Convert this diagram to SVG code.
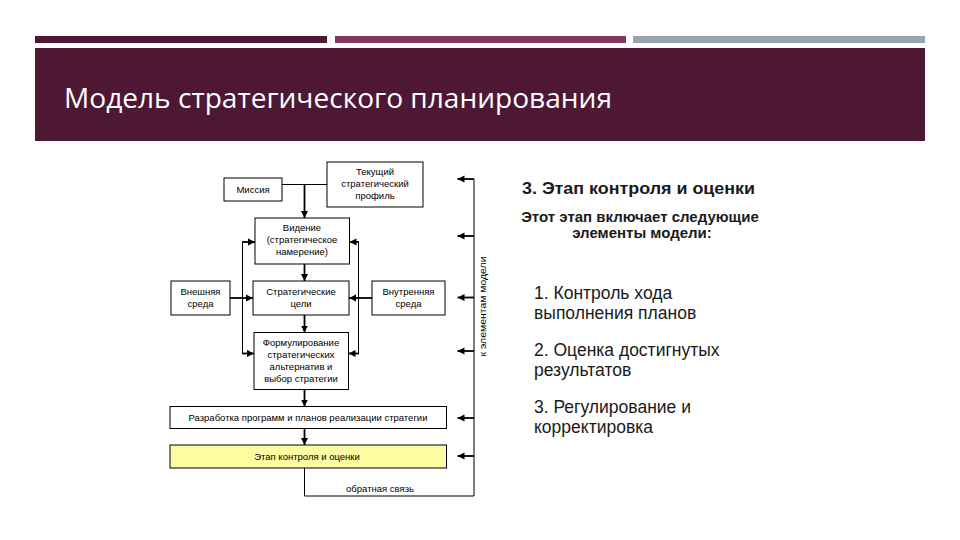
<svg xmlns="http://www.w3.org/2000/svg" width="960" height="540" viewBox="0 0 960 540">
<style>
.box{fill:#fff;stroke:#000;stroke-width:1}
.t{font-family:"Liberation Sans",Arial,sans-serif;font-size:9.5px;fill:#000;text-anchor:middle}
.ln{fill:none;stroke:#000;stroke-width:1}
.ar{fill:none;stroke:#000;stroke-width:1.8;marker-end:url(#ah)}
.r{font-family:"Liberation Sans",Arial,sans-serif;fill:#1a1a1a}
.it{font-size:17.5px}
</style>
<defs>
<marker id="ah" markerUnits="userSpaceOnUse" markerWidth="8" markerHeight="8" refX="7" refY="4" orient="auto">
<path d="M0,0.5 L7,4 L0,7.5 z" fill="#000"/>
</marker>
</defs>
<rect x="0" y="0" width="960" height="540" fill="#fff"/>
<g id="header">
<rect x="35" y="36" width="292" height="7" fill="#4e1835"/>
<rect x="335" y="36" width="291" height="7" fill="#85375f"/>
<rect x="633" y="36" width="292" height="7" fill="#9ba4aa"/>
<rect x="35" y="48" width="890" height="93" fill="#4e1835"/>
<text x="64" y="107.5" font-family="'Open Sans','Noto Sans',sans-serif" font-size="27" fill="#fff" textLength="548" lengthAdjust="spacingAndGlyphs">Модель стратегического планирования</text>
</g>
<g id="connectors">
<path class="ln" d="M282,184.5 H327"/>
<path class="ar" d="M304.5,184.5 V218"/>
<path class="ar" d="M304.5,264 V281"/>
<path class="ar" d="M304.5,315 V332.5"/>
<path class="ar" d="M304.5,389.5 V406.5"/>
<path class="ar" d="M304.5,428.5 V445"/>
<path class="ln" d="M242.5,242 V353.5"/>
<path class="ar" d="M242,242 H255"/>
<path class="ar" d="M242,353.5 H254"/>
<path class="ln" d="M358.5,242 V353.5"/>
<path class="ar" d="M359,242 H349.5"/>
<path class="ar" d="M359,353.5 H348.5"/>
<path class="ar" d="M230,298 H253"/>
<path class="ar" d="M372,298 H349"/>
<path class="ln" d="M304.5,468 V496 H474 V179"/>
<path class="ar" d="M474,179 H457.5"/>
<path class="ar" d="M474,236 H457.5"/>
<path class="ar" d="M474,297.5 H457.5"/>
<path class="ar" d="M474,351 H457.5"/>
<path class="ar" d="M474,418 H457.5"/>
<path class="ar" d="M474,456 H457.5"/>
<text class="t" x="380" y="492">обратная связь</text>
<text class="t" transform="translate(486,306.5) rotate(-90)" font-size="9.5" textLength="100" lengthAdjust="spacingAndGlyphs">к элементам модели</text>
</g>
<g id="missiya">
<rect class="box" x="224" y="178" width="58" height="23"/>
<text class="t" x="253" y="193">Миссия</text>
</g>
<g id="profil">
<rect class="box" x="327" y="162" width="96" height="45"/>
<text class="t" x="375" y="175">Текущий</text>
<text class="t" x="375" y="187">стратегический</text>
<text class="t" x="375" y="199">профиль</text>
</g>
<g id="videnie">
<rect class="box" x="255" y="218" width="94.5" height="46"/>
<text class="t" x="302" y="231">Видение</text>
<text class="t" x="302" y="243">(стратегическое</text>
<text class="t" x="302" y="255">намерение)</text>
</g>
<g id="vneshnyaya">
<rect class="box" x="171" y="281" width="59" height="34"/>
<text class="t" x="200.5" y="295">Внешняя</text>
<text class="t" x="200.5" y="307">среда</text>
</g>
<g id="celi">
<rect class="box" x="253" y="281" width="96" height="34"/>
<text class="t" x="301" y="295">Стратегические</text>
<text class="t" x="301" y="307">цели</text>
</g>
<g id="vnutrennyaya">
<rect class="box" x="372" y="281" width="73" height="34"/>
<text class="t" x="408.5" y="295">Внутренняя</text>
<text class="t" x="408.5" y="307">среда</text>
</g>
<g id="formulirovanie">
<rect class="box" x="254" y="332.5" width="94.5" height="57"/>
<text class="t" x="301" y="346">Формулирование</text>
<text class="t" x="301" y="358">стратегических</text>
<text class="t" x="301" y="370">альтернатив и</text>
<text class="t" x="301" y="382">выбор стратегии</text>
</g>
<g id="razrabotka">
<rect class="box" x="170" y="406.5" width="276.5" height="22"/>
<text class="t" x="308" y="420.5">Разработка программ и планов реализации стратегии</text>
</g>
<g id="etap">
<rect class="box" x="170" y="445" width="276.5" height="23" style="fill:#fdfca0"/>
<text class="t" x="307" y="459.5">Этап контроля и оценки</text>
</g>
<g id="right-text">
<text class="r" x="522" y="194" font-size="16" font-weight="bold" textLength="233" lengthAdjust="spacingAndGlyphs">3. Этап контроля и оценки</text>
<text class="r" x="640" y="222" font-size="15" font-weight="bold" text-anchor="middle">Этот этап включает следующие</text>
<text class="r" x="642" y="238" font-size="15" font-weight="bold" text-anchor="middle">элементы модели:</text>
<text class="r it" x="534" y="299">1. Контроль хода</text>
<text class="r it" x="534" y="318.5">выполнения планов</text>
<text class="r it" x="534" y="356">2. Оценка достигнутых</text>
<text class="r it" x="534" y="375.5">результатов</text>
<text class="r it" x="534" y="413">3. Регулирование и</text>
<text class="r it" x="534" y="432.5">корректировка</text>
</g>
</svg>
